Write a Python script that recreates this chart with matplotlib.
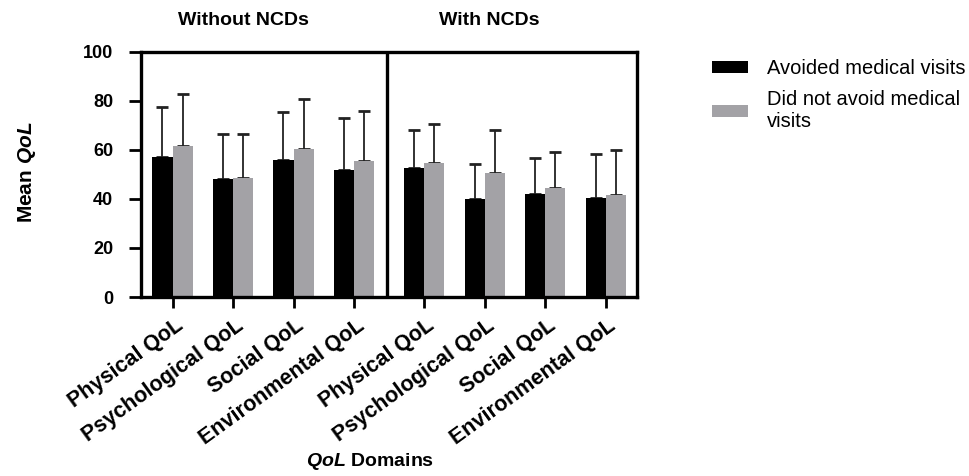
import matplotlib.pyplot as plt
import matplotlib.transforms as mtransforms
import numpy as np

plt.rcParams['font.family'] = ['Liberation Sans', 'DejaVu Sans']
plt.rcParams['mathtext.fontset'] = 'custom'
plt.rcParams['mathtext.bfit'] = 'Liberation Sans:italic:bold'

domains = ['Physical QoL', 'Psychological QoL', 'Social QoL', 'Environmental QoL']
groups = ['Without NCDs', 'With NCDs']
series = ['Avoided medical visits', 'Did not avoid medical\nvisits']

# mean QoL and SD (upper error only)
avoided_mean = [57.0, 48.1, 55.8, 51.7, 52.5, 39.9, 42.0, 40.3]
avoided_sd = [20.4, 18.3, 19.6, 21.2, 15.5, 14.3, 14.8, 18.1]
not_avoided_mean = [61.5, 48.6, 60.3, 55.4, 54.6, 50.5, 44.4, 41.6]
not_avoided_sd = [21.1, 17.8, 20.5, 20.5, 16.0, 17.7, 14.8, 18.4]

colors = ['#000000', '#a3a2a6']
pos = np.array([0, 1, 2, 3, 4.16, 5.16, 6.16, 7.16])
w = 0.333

fig = plt.figure(figsize=(9.7, 4.76), dpi=100)
ax = fig.add_axes([0.1454, 0.376, 0.5116, 0.5158])

for vals, sds, off, c, lab in [(avoided_mean, avoided_sd, -w / 2, colors[0], series[0]),
                                (not_avoided_mean, not_avoided_sd, w / 2, colors[1], series[1])]:
    ax.bar(pos + off, vals, width=w, color=c, label=lab, zorder=2)
    ax.errorbar(pos + off, vals, yerr=[np.zeros(len(sds)), sds], fmt='none',
                ecolor='#222222', elinewidth=1.3, capsize=4.5, capthick=2, zorder=1)

ax.set_xlim(-0.52, 7.68)
ax.set_ylim(0, 100)
ax.axvline(3.55, color='black', lw=2.4)
for s in ax.spines.values():
    s.set_linewidth(2.4)

ax.set_yticks([0, 20, 40, 60, 80, 100])
ax.tick_params(axis='y', length=9, width=2, labelsize=13, pad=11)
ax.tick_params(axis='x', length=8, width=2, labelsize=15.5, pad=5)
for t in ax.get_yticklabels():
    t.set_fontweight('bold')
ax.set_xticks(pos)
ax.set_xticklabels(domains * 2, rotation=36, ha='right', va='top',
                   rotation_mode='anchor', fontweight='bold')
shift = mtransforms.ScaledTranslation(2 / 100, 0, fig.dpi_scale_trans)
for t in ax.get_xticklabels():
    t.set_transform(t.get_transform() + shift)

ax.text(1.17, 112.5, groups[0], ha='center', va='center', fontsize=14, fontweight='bold')
ax.text(5.24, 112.5, groups[1], ha='center', va='center', fontsize=14, fontweight='bold')

fig.text(0.028, 0.639, r'Mean $\mathbfit{QoL}$', rotation=90, ha='center', va='center',
         fontsize=15, fontweight='bold', family=['Liberation Sans Narrow', 'Liberation Sans'])
fig.text(0.381, 0.03, r'$\mathbfit{QoL}$ Domains', ha='center', va='center',
         fontsize=14, fontweight='bold')

fig.legend(loc='upper left', bbox_to_anchor=(0.734, 0.876), frameon=False, fontsize=14.5,
           handlelength=1.8, handleheight=0.6, handletextpad=0.95, labelspacing=0.6,
           borderpad=0, borderaxespad=0)

fig.savefig('out.png', dpi=100)
